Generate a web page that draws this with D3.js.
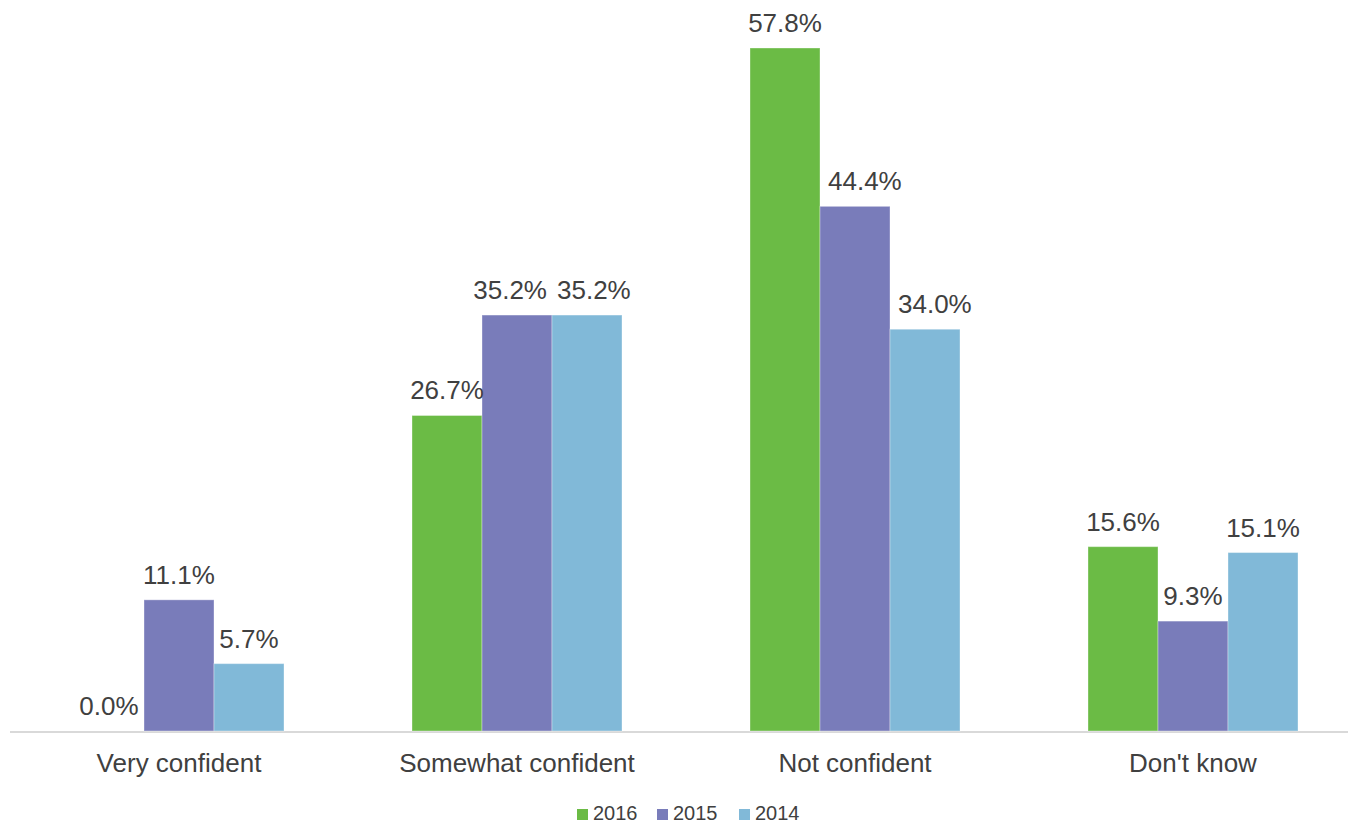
<!DOCTYPE html>
<html><head><meta charset="utf-8">
<script src="https://cdn.jsdelivr.net/npm/d3@7"></script>
<style>body{margin:0;background:#fff}svg{display:block}text{font-family:"Liberation Sans",Arial,sans-serif}</style>
</head><body>
<script>
const categories = ["Very confident","Somewhat confident","Not confident","Don't know"];
const seriesNames = ["2016","2015","2014"];
const values2016 = [0.0, 26.7, 57.8, 15.6];
const values2015 = [11.1, 35.2, 44.4, 9.3];
const values2014 = [5.7, 35.2, 34.0, 15.1];
const colors = ["#6bbb45","#797cba","#81b9d8"];

const W = 1348, H = 824;
const svg = d3.select("body").append("svg").attr("width", W).attr("height", H);
const seriesVals = [values2016, values2015, values2014];

const x0 = d3.scaleBand().domain(categories).range([10, 1362]).paddingInner(0).paddingOuter(0);
const x1 = d3.scaleBand().domain(seriesNames).range([64, 274]);
const y = d3.scaleLinear().domain([0, 57.8]).range([731, 48]);

svg.append("line").attr("x1", 10).attr("x2", 1348).attr("y1", 732).attr("y2", 732)
  .attr("stroke", "#d9d9d9").attr("stroke-width", 2);

const g = svg.append("g");
const lg = svg.append("g");
categories.forEach((c, i) => {
  const bars = [], labels = [];
  seriesNames.forEach((s, j) => {
    const v = seriesVals[j][i];
    const bx = x0(c) + x1(s);
    g.append("rect").attr("x", bx).attr("y", y(v)).attr("width", x1.bandwidth())
      .attr("height", y(0) - y(v)).attr("fill", colors[j])
      .attr("stroke", v > 0 ? "#ffffff" : "none").attr("stroke-opacity", 0.35).attr("stroke-width", 1);
    bars.push({left: bx, right: bx + x1.bandwidth(), top: y(v)});
    const t = lg.append("text").attr("x", bx + x1.bandwidth() / 2).attr("y", y(v) - 16)
      .attr("text-anchor", "middle").attr("font-size", 26).attr("fill", "#404040")
      .text(v.toFixed(1) + "%");
    const w = t.node().getComputedTextLength();
    labels.push({node: t, cx: bx + x1.bandwidth() / 2, w: w, bottom: y(v) - 10});
  });
  // avoid overlap with taller left neighbour bar
  for (let j = 1; j < labels.length; j++) {
    const L = labels[j], nb = bars[j - 1];
    if (nb.top < L.bottom && L.cx - L.w / 2 < nb.right) L.cx = nb.right + 8 + L.w / 2;
  }
  // avoid label-label overlap
  for (let j = 1; j < labels.length; j++) {
    const A = labels[j - 1], B = labels[j];
    const overlap = (A.cx + A.w / 2 + 10) - (B.cx - B.w / 2);
    if (Math.abs(A.bottom - B.bottom) < 26 && overlap > 0) { A.cx -= overlap / 2; B.cx += overlap / 2; }
  }
  labels.forEach(L => L.node.attr("x", L.cx));
  svg.append("text").attr("x", x0(c) + x0.bandwidth() / 2).attr("y", 772)
    .attr("text-anchor", "middle").attr("font-size", 26).attr("fill", "#404040").text(c);
});

const legX = [577, 657, 739];
seriesNames.forEach((s, j) => {
  svg.append("rect").attr("x", legX[j]).attr("y", 809).attr("width", 11).attr("height", 11).attr("fill", colors[j]);
  svg.append("text").attr("x", legX[j] + 16).attr("y", 820).attr("font-size", 20).attr("fill", "#404040").text(s);
});
</script>
</body></html>
